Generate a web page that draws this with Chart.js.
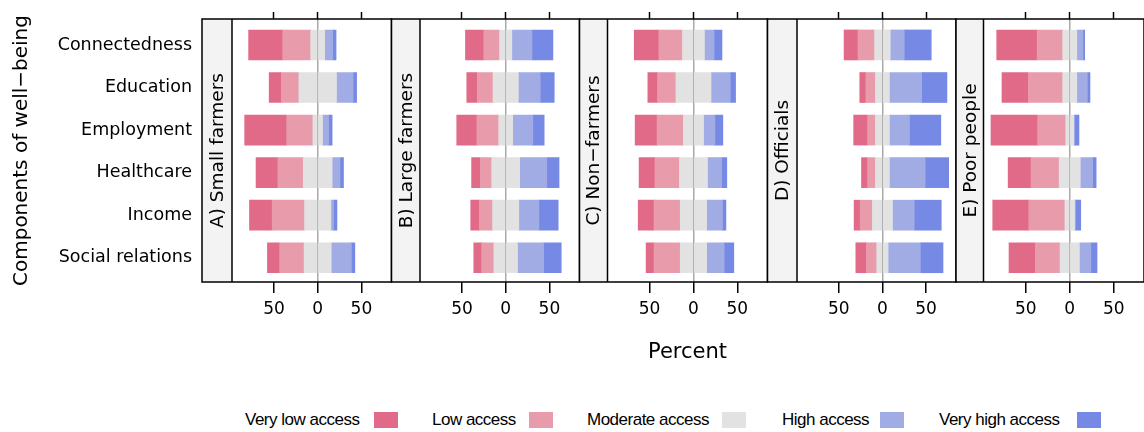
<!DOCTYPE html>
<html>
<head>
<meta charset="utf-8">
<script src="https://cdn.jsdelivr.net/npm/chart.js@4.4.1/dist/chart.umd.min.js"></script>
<style>
  html, body { margin: 0; padding: 0; background: #fff; }
  #wrap { position: relative; width: 1144px; height: 432px; overflow: hidden; }
  canvas { position: absolute; left: 0; top: 0; }
  .lg-text { position: absolute; top: 411px; height: 18px; line-height: 18px; font-family: "Liberation Sans", Arial, sans-serif; font-size: 17px; letter-spacing: -0.5px; color: #000; white-space: nowrap; }
  .lg-box { position: absolute; top: 412px; width: 24px; height: 16px; }
</style>
</head>
<body>
<div id="wrap">
  <canvas id="p0" width="1144" height="370"></canvas>
  <canvas id="p1" width="1144" height="370"></canvas>
  <canvas id="p2" width="1144" height="370"></canvas>
  <canvas id="p3" width="1144" height="370"></canvas>
  <canvas id="p4" width="1144" height="370"></canvas>
  <div id="legend"></div>
</div>
<script>
// ---------------- data ----------------
const categories = ['Connectedness', 'Education', 'Employment', 'Healthcare', 'Income', 'Social relations'];
const levels = ['Very low access', 'Low access', 'Moderate access', 'High access', 'Very high access'];
const groups = ['A) Small farmers', 'B) Large farmers', 'C) Non\u2212farmers', 'D) Officials', 'E) Poor people'];
const xTicks = [-50, 0, 50];
// rows follow categories; columns follow levels (percent)
const smallFarmers = [[39, 32, 16, 9, 4], [14, 20, 43, 19, 4], [48, 30, 11, 7, 4], [25, 29, 33, 9, 4], [26, 37, 30, 3, 4], [14, 28, 31, 23, 4]];
const largeFarmers = [[21, 18, 14, 23, 24], [12, 18, 29, 25, 16], [23, 25, 16, 23, 13], [10, 13, 32, 31, 14], [10, 15, 30, 23, 22], [9, 14, 27, 30, 20]];
const nonFarmers = [[28, 27, 25, 11, 9], [11, 21, 40, 22, 6], [25, 30, 23, 13, 9], [18, 28, 32, 16, 6], [18, 30, 30, 18, 4], [9, 30, 30, 20, 11]];
const officials = [[16, 19, 18, 16, 31], [7, 11, 16, 37, 29], [16, 9, 16, 23, 36], [7, 9, 16, 41, 27], [7, 14, 23, 25, 31], [12, 12, 13, 37, 26]];
const poorPeople = [[46, 29, 16, 7, 2], [30, 39, 16, 12, 3], [53, 32, 9, 1, 5], [26, 32, 24, 14, 4], [41, 41, 11, 1, 6], [30, 28, 22, 13, 7]];

// ---------------- styling / layout ----------------
const colors = ['#E16A88', '#E89CAB', '#E2E2E2', '#A2ACE4', '#7689E4'];
const panels = [smallFarmers, largeFarmers, nonFarmers, officials, poorPeople];
const boxLeft = [202, 391.5, 579.5, 767.5, 956];
const plotLeft = [232, 420, 607.5, 797, 983.5];
const plotRight = [391.5, 579.5, 767.5, 956, 1144];
const X_MIN = -98, X_MAX = 84.4;
const FONT = 'DejaVu Sans';

Chart.defaults.font.family = FONT;
Chart.defaults.color = '#000';

const panelDecor = {
  id: 'panelDecor',
  beforeDraw(chart, args, opts) {
    const { ctx, chartArea: a } = chart;
    ctx.save();
    ctx.fillStyle = '#f3f3f3';
    ctx.fillRect(opts.boxLeft, a.top, a.left - opts.boxLeft, a.bottom - a.top);
    ctx.restore();
  },
  afterDraw(chart, args, opts) {
    const { ctx, chartArea: a } = chart;
    ctx.save();
    ctx.strokeStyle = '#000';
    ctx.lineWidth = 1.5;
    ctx.strokeRect(opts.boxLeft, a.top, a.right - opts.boxLeft, a.bottom - a.top);
    ctx.beginPath();
    ctx.moveTo(a.left, a.top);
    ctx.lineTo(a.left, a.bottom);
    ctx.stroke();
    ctx.translate((opts.boxLeft + a.left) / 2, (a.top + a.bottom) / 2);
    ctx.rotate(-Math.PI / 2);
    ctx.font = '18.5px "' + FONT + '"';
    ctx.fillStyle = '#000';
    ctx.textAlign = 'center';
    ctx.textBaseline = 'middle';
    ctx.fillText(opts.label, 0, 1);
    ctx.restore();
  }
};

function setTicks(values) {
  return (scale) => { scale.ticks = values.map(v => ({ value: v })); };
}

function makePanel(i) {
  const rows = panels[i];
  const first = i === 0;
  const mk = (label, col, sign, fn) => ({
    label: label,
    data: rows.map((r, k) => ({ x: sign * fn(r), y: k })),
    backgroundColor: colors[col],
    borderWidth: 0,
    barThickness: 30
  });
  const datasets = [
    mk(levels[2], 2, -1, r => r[2] / 2),
    mk(levels[2], 2, 1, r => r[2] / 2),
    mk(levels[1], 1, -1, r => r[1]),
    mk(levels[3], 3, 1, r => r[3]),
    mk(levels[0], 0, -1, r => r[0]),
    mk(levels[4], 4, 1, r => r[4])
  ];
  const yWidth = first ? plotLeft[0] : plotLeft[i] - boxLeft[i];
  return new Chart(document.getElementById('p' + i), {
    type: 'bar',
    data: { datasets: datasets },
    plugins: [panelDecor],
    options: {
      indexAxis: 'y',
      responsive: false,
      animation: false,
      events: [],
      layout: { padding: { left: first ? 0 : boxLeft[i], right: 1144 - plotRight[i], top: 0, bottom: 0 } },
      plugins: {
        legend: { display: false },
        tooltip: { enabled: false },
        panelDecor: { boxLeft: boxLeft[i], label: groups[i] }
      },
      scales: {
        x: {
          type: 'linear', position: 'bottom', min: X_MIN, max: X_MAX, stacked: true,
          afterBuildTicks: setTicks(xTicks),
          afterFit: s => { s.height = 88; },
          ticks: { callback: v => Math.abs(v), font: { size: 17 }, color: '#000', padding: 6, maxRotation: 0, autoSkip: false },
          grid: {
            color: c => (c.tick && c.tick.value === 0) ? '#a9a9a9' : 'rgba(0,0,0,0)',
            lineWidth: 1.5, tickColor: '#000', tickWidth: 1.5, tickLength: 11, drawTicks: true
          },
          border: { display: false },
          title: { display: i === 2, text: 'Percent', font: { size: 21 }, color: '#000', padding: { top: 0, bottom: 5 } }
        },
        x2: {
          type: 'linear', position: 'top', min: X_MIN, max: X_MAX,
          afterBuildTicks: setTicks(xTicks),
          afterFit: s => { s.height = 19; },
          ticks: { display: false },
          grid: { drawOnChartArea: false, color: '#000', tickColor: '#000', tickWidth: 1.5, tickLength: 7 },
          border: { display: false }
        },
        y: {
          type: 'linear', min: -0.61, max: 5.57, reverse: true, stacked: true, offset: false,
          afterBuildTicks: setTicks([0, 1, 2, 3, 4, 5]),
          afterFit: s => { s.width = yWidth; s.paddingTop = 0; s.paddingBottom = 0; },
          ticks: { display: first, callback: v => categories[v], font: { size: 17.5 }, color: '#000', padding: 0 },
          grid: { display: false, offset: false, drawTicks: true, tickLength: 40 },
          border: { display: false },
          title: { display: first, text: 'Components of well\u2212being', font: { size: 20 }, color: '#000', padding: { top: 10, bottom: 0 } }
        }
      }
    }
  });
}

for (let i = 0; i < panels.length; i++) makePanel(i);

// ---------------- legend (HTML) ----------------
const legendText = [245, 432, 587, 782, 939];
const legendBox = [374, 529, 722, 880, 1077];
const lg = document.getElementById('legend');
levels.forEach((name, k) => {
  const t = document.createElement('div');
  t.className = 'lg-text';
  t.style.left = legendText[k] + 'px';
  t.textContent = name;
  lg.appendChild(t);
  const b = document.createElement('div');
  b.className = 'lg-box';
  b.style.left = legendBox[k] + 'px';
  b.style.background = colors[k];
  lg.appendChild(b);
});
</script>
</body>
</html>
